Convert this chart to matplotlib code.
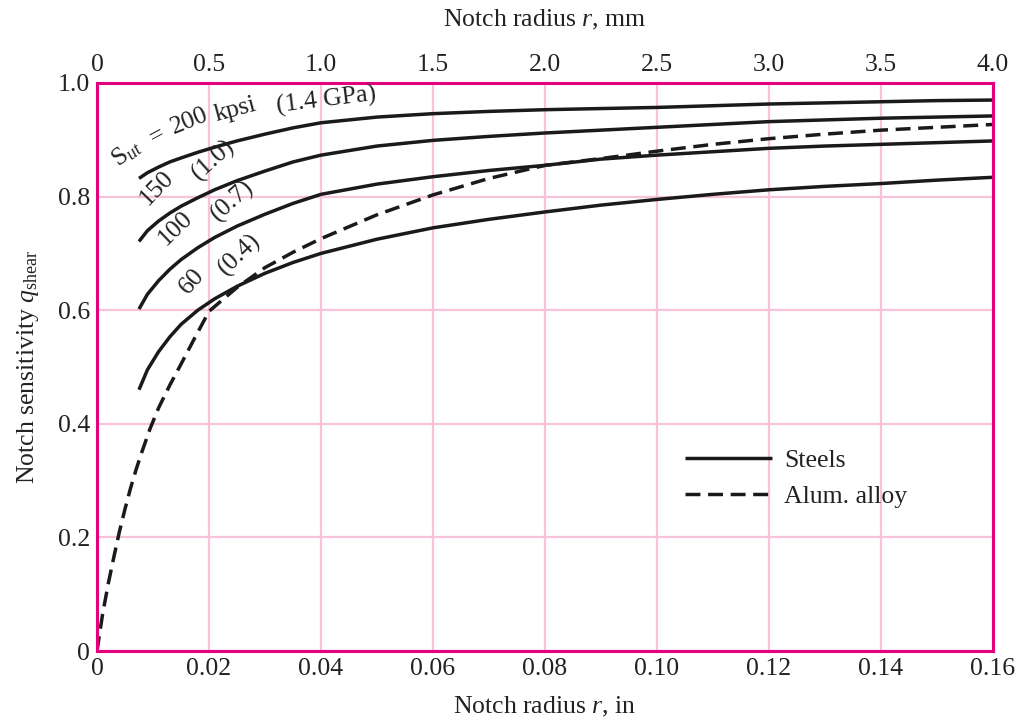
import numpy as np
import matplotlib
matplotlib.use('Agg')
import matplotlib.pyplot as plt

plt.rcParams['font.family'] = ['Liberation Serif', 'DejaVu Serif']
plt.rcParams['mathtext.fontset'] = 'custom'
plt.rcParams['mathtext.rm'] = 'Liberation Serif'
plt.rcParams['mathtext.it'] = 'Liberation Serif:italic'

# notch radius, in
r_steel = [0.0075, 0.009, 0.011, 0.013, 0.015, 0.018, 0.021, 0.025, 0.03, 0.035, 0.04, 0.05,
           0.06, 0.07, 0.08, 0.09, 0.10, 0.11, 0.12, 0.13, 0.14, 0.15, 0.16]
q_200 = [0.832, 0.842, 0.852, 0.861, 0.868, 0.878, 0.887, 0.898, 0.910, 0.921, 0.930, 0.940,
         0.946, 0.950, 0.953, 0.955, 0.957, 0.960, 0.963, 0.965, 0.967, 0.969, 0.970]
q_150 = [0.721, 0.740, 0.757, 0.771, 0.783, 0.798, 0.812, 0.828, 0.845, 0.861, 0.873, 0.889,
         0.899, 0.906, 0.912, 0.917, 0.922, 0.927, 0.932, 0.935, 0.938, 0.940, 0.942]
q_100 = [0.602, 0.628, 0.652, 0.672, 0.689, 0.710, 0.728, 0.748, 0.769, 0.788, 0.804, 0.822,
         0.835, 0.846, 0.855, 0.866, 0.873, 0.879, 0.885, 0.889, 0.892, 0.895, 0.898]
q_60 = [0.460, 0.495, 0.527, 0.553, 0.575, 0.600, 0.620, 0.642, 0.665, 0.684, 0.700, 0.725,
        0.745, 0.760, 0.773, 0.785, 0.795, 0.804, 0.812, 0.818, 0.823, 0.829, 0.834]

r_alum = [0, 0.001, 0.002, 0.003, 0.004, 0.005, 0.006, 0.007, 0.008, 0.0095, 0.011, 0.013,
          0.015, 0.0175, 0.02, 0.025, 0.03, 0.035, 0.04, 0.05, 0.06, 0.07, 0.08, 0.09,
          0.10, 0.11, 0.12, 0.13, 0.14, 0.15, 0.16]
q_alum = [0, 0.065, 0.118, 0.165, 0.210, 0.250, 0.287, 0.320, 0.350, 0.392, 0.428, 0.468,
          0.505, 0.552, 0.598, 0.640, 0.675, 0.702, 0.726, 0.768, 0.803, 0.832, 0.855, 0.867,
          0.880, 0.892, 0.902, 0.910, 0.917, 0.922, 0.927]

x_ticks_in = [0, 0.02, 0.04, 0.06, 0.08, 0.10, 0.12, 0.14, 0.16]
x_labels_in = ['0', '0.02', '0.04', '0.06', '0.08', '0.10', '0.12', '0.14', '0.16']
x_labels_mm = ['0', '0.5', '1.0', '1.5', '2.0', '2.5', '3.0', '3.5', '4.0']
y_ticks = [0, 0.2, 0.4, 0.6, 0.8, 1.0]
y_labels = ['0', '0.2', '0.4', '0.6', '0.8', '1.0']

LINE = '#1a1a1a'
TEXT = '#222222'
FRAME = '#e4007c'
GRID = '#f8c2db'
FS = 18.5

fig = plt.figure(figsize=(10.19, 7.22), dpi=100)
ax = fig.add_axes([97 / 1019, 71 / 722, 896 / 1019, 568 / 722])

for q in (q_200, q_150, q_100):
    ax.plot(r_steel, q, color=LINE, lw=2.5, solid_capstyle='butt')
ax.plot(r_steel, q_60, color=LINE, lw=2.5, solid_capstyle='butt', label='Steels')
ax.plot(r_alum, q_alum, color=LINE, lw=2.5, dashes=(4.3, 2.2), label='Alum. alloy')

ax.set_xlim(0, 0.16)
ax.set_ylim(0, 1.0)
ax.set_xticks(x_ticks_in)
ax.set_xticklabels(x_labels_in)
ax.set_yticks(y_ticks)
ax.set_yticklabels(y_labels)
ax.tick_params(length=0, labelsize=FS, pad=5, colors=TEXT)
ax.grid(True, color=GRID, lw=1.6)
ax.set_axisbelow(True)
for s in ax.spines.values():
    s.set_color(FRAME)
    s.set_linewidth(2.2)

ax.set_xlabel(r'Notch radius $\mathit{r}$, in', fontsize=FS, labelpad=11, color=TEXT)
ax.set_ylabel(r'Notch sensitivity $q_{\mathrm{shear}}$', fontsize=FS, labelpad=12, color=TEXT)

top = ax.twiny()
top.set_xlim(ax.get_xlim())
top.set_xticks(x_ticks_in)
top.set_xticklabels(x_labels_mm)
top.tick_params(length=0, labelsize=FS, pad=5, colors=TEXT)
for s in top.spines.values():
    s.set_visible(False)
top.set_xlabel(r'Notch radius $\mathit{r}$, mm', fontsize=FS, labelpad=20, color=TEXT)


def pix(px, py):
    return ((px - 97) / 896 * 0.16, (651 - py) / 568)


# curve labels: text, pixel centre x, y, rotation
lbls = [
    (r'S$_{\mathit{ut}}$', 127, 153, 38),
    ('=', 157, 136, 28),
    ('200', 190, 121, 22),
    ('kpsi', 235, 110, 15),
    ('(1.4 GPa)', 326, 100, 7),
    ('150', 157, 188, 46),
    ('(1.0)', 213, 160, 42),
    ('100', 175, 228, 44),
    ('(0.7)', 232, 201, 42),
    ('60', 192, 281, 48),
    ('(0.4)', 240, 255, 44),
]
for txt, px, py, rot in lbls:
    x, y = pix(px, py)
    ax.text(x, y, txt, fontsize=FS, rotation=rot, rotation_mode='anchor',
            ha='center', va='center', color=TEXT)

leg = ax.legend(loc='upper left', bbox_to_anchor=((685 - 97) / 896, (651 - 449) / 568),
                frameon=False, fontsize=FS, handlelength=3.4, handletextpad=0.45,
                labelspacing=0.5, borderaxespad=0, borderpad=0)
for t in leg.get_texts():
    t.set_color(TEXT)

fig.savefig('out.png', dpi=100)
